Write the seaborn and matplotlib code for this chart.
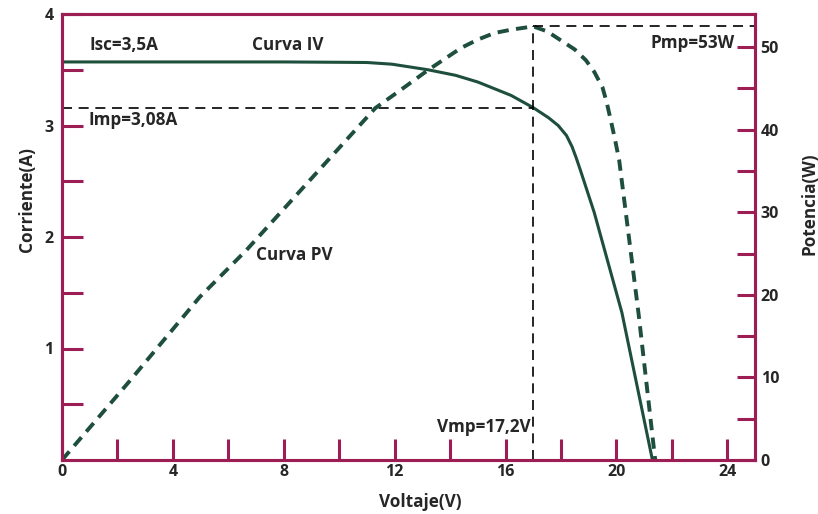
import matplotlib
matplotlib.use("Agg")
import matplotlib.pyplot as plt
import seaborn as sns
import pandas as pd
import numpy as np

# ---- data ----
iv_voltage = [0, 4, 8, 10, 11.0, 11.9, 13.2, 14.2, 15.0, 16.2, 17.0, 17.55, 17.9,
              18.2, 18.4, 18.55, 18.7, 19.2, 20.2, 21.3]
iv_current = [3.57, 3.57, 3.57, 3.567, 3.565, 3.55, 3.50, 3.45, 3.39, 3.27, 3.16, 3.07, 3.00,
              2.91, 2.81, 2.71, 2.60, 2.22, 1.32, 0.0]

pv_voltage = [0, 2.45, 4.96, 6.65, 11.3, 12.3, 13.2, 14.4, 15.0, 15.6, 16.2, 16.8, 17.0,
              17.5, 18.0, 18.5, 18.9, 19.2, 19.5, 19.65, 19.8, 19.95, 20.1, 20.3, 20.8, 21.4]
pv_power = [0, 9.6, 19.7, 25.4, 42.6, 45.0, 47.2, 49.9, 50.9, 51.7, 52.1, 52.4, 52.5,
            51.9, 50.8, 49.7, 48.4, 47.0, 45.1, 43.3, 41.1, 38.8, 36.3, 31.0, 17.7, 0.0]

vmp_pos = 17.0      # position of the Vmp guide line
imp_pos = 3.16      # position of the Imp guide line (left axis)
pmp_pos = 52.5      # position of the Pmp guide line (right axis)

x_ticks = [0, 4, 8, 12, 16, 20, 24]
y_left_ticks = [1, 2, 3, 4]
y_right_ticks = [0, 10, 20, 30, 40, 50]

labels = {
    "isc": "Isc=3,5A", "imp": "Imp=3,08A", "pmp": "Pmp=53W", "vmp": "Vmp=17,2V",
    "iv": "Curva IV", "pv": "Curva PV",
}

# ---- style ----
sns.set_style("white")
plt.rcParams["font.family"] = ["Open Sans", "DejaVu Sans"]
plt.rcParams["font.weight"] = "bold"

frame = "#9C1E55"
green = "#1E4E3C"
fs = 12.3
tfs = 11.5

fig = plt.figure(figsize=(8.18, 5.14), dpi=100)
ax = fig.add_axes([62 / 818, 54 / 514, 693 / 818, 446 / 514])
ax2 = ax.twinx()

iv_df = pd.DataFrame({"V": iv_voltage, "I": iv_current})
pv_df = pd.DataFrame({"V": pv_voltage, "P": pv_power})

sns.lineplot(data=iv_df, x="V", y="I", ax=ax, color=green, lw=2.2, sort=False)
sns.lineplot(data=pv_df, x="V", y="P", ax=ax2, color=green, lw=2.8, sort=False)
ax2.lines[0].set_dashes([2.9, 1.9])
ax2.lines[0].set_solid_joinstyle("round")
ax.lines[0].set_solid_joinstyle("round")

ax.set_xlim(0, 25)
ax.set_ylim(0, 4)
ax2.set_ylim(0, 54)

# guide lines
ax.plot([0, vmp_pos], [imp_pos, imp_pos], color="black", lw=1.2, dashes=[6, 4])
ax2.plot([vmp_pos, vmp_pos], [0, pmp_pos], color="black", lw=1.2, dashes=[6, 4])
ax2.plot([vmp_pos, 25], [pmp_pos, pmp_pos], color="black", lw=1.2, dashes=[6, 4])

# ticks
ax.set_xticks(x_ticks)
ax.set_xticks(np.arange(2, 25, 4), minor=True)
ax.set_yticks(y_left_ticks)
ax.set_yticks(np.arange(0.5, 4, 1.0), minor=True)
ax2.set_yticks(y_right_ticks)
ax2.set_yticks(np.arange(5, 54, 10), minor=True)

for a in (ax, ax2):
    for sp in a.spines.values():
        sp.set_color(frame)
        sp.set_linewidth(2.2)
        sp.set_visible(True)
    a.grid(False)

ax.tick_params(axis="both", which="both", direction="in", color=frame, width=2.2,
               length=15, labelsize=tfs, pad=6)
ax.tick_params(axis="x", which="both", bottom=True, top=False, pad=3)
ax.tick_params(axis="y", which="both", left=True, right=False)
ax2.tick_params(axis="y", which="both", direction="in", color=frame, width=2.2,
                length=13, labelsize=tfs, pad=4, right=True, left=False)

for t in ax.get_xticklabels() + ax.get_yticklabels() + ax2.get_yticklabels():
    t.set_fontweight("bold")

ax.set_xlabel("Voltaje(V)", fontsize=fs, fontweight="bold")
ax.set_ylabel("Corriente(A)", fontsize=fs, fontweight="bold")
ax2.set_ylabel("Potencia(W)", fontsize=fs, fontweight="bold")
ax.xaxis.set_label_coords(0.517, -0.075)
ax.yaxis.set_label_coords(-0.038, 0.583)
ax2.yaxis.set_label_coords(1.066, 0.575)

# annotations
ax.text(1.0, 3.72, labels["isc"], fontsize=fs, fontweight="bold", va="center", ha="left")
ax.text(0.95, 3.05, labels["imp"], fontsize=fs, fontweight="bold", va="center", ha="left")
ax.text(6.85, 3.72, labels["iv"], fontsize=fs, fontweight="bold", va="center", ha="left")
ax.text(7.0, 1.84, labels["pv"], fontsize=fs, fontweight="bold", va="center", ha="left")
ax2.text(24.25, 50.5, labels["pmp"], fontsize=fs, fontweight="bold", va="center", ha="right")
ax2.text(16.9, 4.0, labels["vmp"], fontsize=fs, fontweight="bold", va="center", ha="right")

fig.savefig("out.png", dpi=100)
